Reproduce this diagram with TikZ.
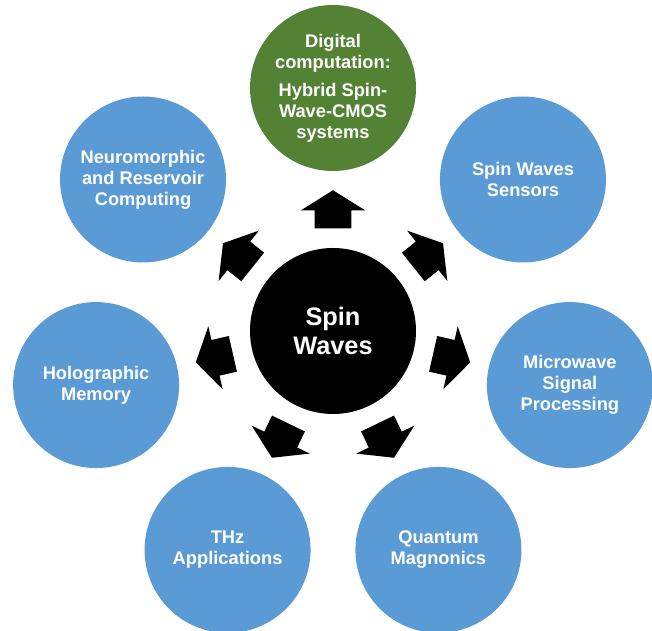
\documentclass[tikz,border=0pt]{standalone}
\usepackage{fontspec}
\setmainfont{Liberation Sans}
\usetikzlibrary{shapes.arrows}
\definecolor{topicBlue}{RGB}{91,155,213}
\definecolor{digiGreen}{RGB}{84,130,53}

\tikzset{
  hub/.style={circle, fill=black, text=white, minimum size=4.15cm, inner sep=0pt,
    align=center, font=\fontsize{18}{21}\selectfont\bfseries},
  topic/.style={circle, fill=topicBlue, text=white, minimum size=4.15cm, inner sep=0pt,
    align=center, font=\fontsize{13}{15}\selectfont\bfseries},
  pointer/.style={single arrow, fill=black, inner xsep=0pt, inner ysep=0.45cm,
    minimum height=0.95cm, single arrow head extend=0.35cm, single arrow tip angle=116}
}

\begin{document}
\begin{tikzpicture}
    \useasboundingbox (-8.325,-7.5) rectangle (7.975,8.275);

    \node[hub] (core) at (0,0) {Spin\\Waves};

    \node[topic, fill=digiGreen] (digital) at (90:6.075) {Digital\\computation:\\[5pt]Hybrid Spin-\\Wave-CMOS\\systems};
    \node[topic] (sensors) at (38.571:6.075) {Spin Waves\\Sensors};
    \node[topic] (microwave) at (-12.857:6.075) {Microwave\\Signal\\Processing};
    \node[topic] (quantum) at (-64.286:6.075) {Quantum\\Magnonics};
    \node[topic] (thz) at (-115.714:6.075) {THz\\Applications};
    \node[topic] (holo) at (-167.143:6.075) {Holographic\\Memory};
    \node[topic] (neuro) at (141.429:6.075) {Neuromorphic\\and Reservoir\\Computing};

    % block arrows from the hub outwards
    \foreach \ang/\nm in {90/digital, 38.571/sensors, -12.857/microwave, -64.286/quantum,
                          -115.714/thz, -167.143/holo, 141.429/neuro}
        \node[pointer, rotate=\ang] (to-\nm) at (\ang:2.9) {};
\end{tikzpicture}
\end{document}
